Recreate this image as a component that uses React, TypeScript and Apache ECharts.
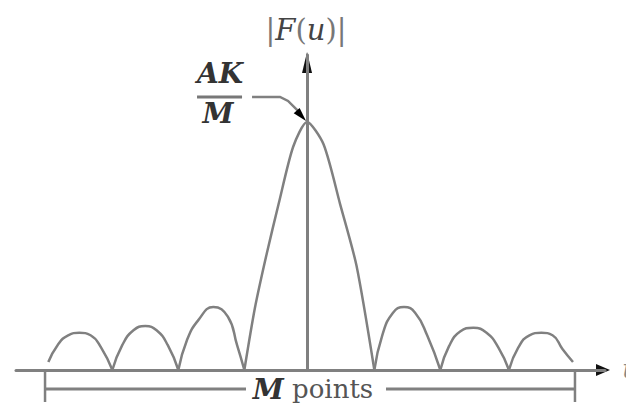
import React, { useEffect, useRef } from "react";
import * as echarts from "echarts";

// |F(u)| along u (one unit per zero crossing); magnitude scaled so the main peak AK/M = 1
const lobeLeft3: [number, number][] = [
  [-3.92, 0.032], [-3.78, 0.1], [-3.62, 0.14], [-3.45, 0.15],
  [-3.28, 0.14], [-3.12, 0.09], [-2.95, 0],
];
const lobeLeft2: [number, number][] = [
  [-2.95, 0], [-2.8, 0.1], [-2.63, 0.16], [-2.45, 0.177],
  [-2.28, 0.16], [-2.11, 0.1], [-1.95, 0],
];
const lobeLeft1: [number, number][] = [
  [-1.95, 0], [-1.82, 0.12], [-1.65, 0.2], [-1.42, 0.254],
  [-1.2, 0.215], [-1.06, 0.1], [-0.95, 0],
];
const mainLobe: [number, number][] = [
  [-0.95, 0], [-0.79, 0.25], [-0.61, 0.47], [-0.43, 0.67], [-0.21, 0.9],
  [0, 1], [0.25, 0.91], [0.5, 0.67], [0.75, 0.42], [1.02, 0],
];
const lobeRight1: [number, number][] = [
  [1.02, 0], [1.14, 0.14], [1.3, 0.23], [1.47, 0.254],
  [1.64, 0.23], [1.82, 0.14], [2.02, 0],
];
const lobeRight2: [number, number][] = [
  [2.02, 0], [2.15, 0.095], [2.32, 0.155], [2.52, 0.17],
  [2.72, 0.15], [2.9, 0.09], [3.06, 0],
];
const lobeRight3: [number, number][] = [
  [3.06, 0], [3.2, 0.09], [3.37, 0.14], [3.55, 0.15],
  [3.72, 0.14], [3.87, 0.085], [4.03, 0.032],
];

const lobes = [lobeLeft3, lobeLeft2, lobeLeft1, mainLobe, lobeRight1, lobeRight2, lobeRight3];

// axis extents and the span covered by the M samples
const uRange = [-4.41, 4.515];
const magRange = [0, 1.27];
const pointSpan = [-3.97, 4.06];
const peakValue = 1;

const GREY = "#808080";
const SERIF = "'DejaVu Serif', 'Liberation Serif', serif";

export default function App() {
  const ref = useRef<HTMLDivElement>(null);

  useEffect(() => {
    if (!ref.current) return;
    const chart = echarts.init(ref.current, undefined, { renderer: "svg" });

    chart.setOption({
      animation: false,
      backgroundColor: "#ffffff",
      grid: { left: 16, right: 21, top: 55, bottom: 41 },
      xAxis: {
        type: "value",
        min: uRange[0],
        max: uRange[1],
        axisLine: { show: true, onZero: true, lineStyle: { color: GREY, width: 3 } },
        axisTick: { show: false },
        axisLabel: { show: false },
        splitLine: { show: false },
      },
      yAxis: {
        type: "value",
        min: magRange[0],
        max: magRange[1],
        axisLine: { show: true, onZero: true, lineStyle: { color: GREY, width: 3 } },
        axisTick: { show: false },
        axisLabel: { show: false },
        splitLine: { show: false },
      },
      series: lobes.map((lobe) => ({
        type: "line",
        data: lobe,
        smooth: lobe === mainLobe ? 0.25 : 0.5,
        symbol: "none",
        silent: true,
        lineStyle: { color: GREY, width: 2.5 },
      })),
    });

    const px = (u: number, m: number) =>
      chart.convertToPixel({ gridIndex: 0 }, [u, m]) as number[];
    const [ox, oy] = px(0, 0);
    const top = px(0, magRange[1]);
    const right = px(uRange[1], 0);
    const peak = px(0, peakValue);
    const spanL = px(pointSpan[0], 0)[0];
    const spanR = px(pointSpan[1], 0)[0];
    const mid = (spanL + spanR) / 2 + 3;

    // leader from the AK/M label to the peak
    const fx = peak[0] - 87;
    const fy = peak[1] - 25;
    const leader = [
      [fx + 32, fy],
      [fx + 60, fy],
      [fx + 68, fy + 4],
      [fx + 79, fy + 15],
    ];
    const tip = [peak[0] - 1, peak[1] - 1];
    const from = leader[2];
    const dx = tip[0] - from[0];
    const dy = tip[1] - from[1];
    const len = Math.hypot(dx, dy);
    const d = [dx / len, dy / len];
    const base = [tip[0] - 14 * d[0], tip[1] - 14 * d[1]];
    const perp = [-d[1], d[0]];

    chart.setOption({
      graphic: [
        // axis arrowheads
        {
          type: "polygon",
          shape: { points: [[ox, top[1] - 3], [ox + 5, top[1] + 18], [ox - 5, top[1] + 18]] },
          style: { fill: "#111" },
        },
        {
          type: "polygon",
          shape: { points: [[right[0] + 5, oy], [right[0] - 9, oy - 6], [right[0] - 9, oy + 6]] },
          style: { fill: "#111" },
        },
        {
          type: "text",
          x: right[0] + 17,
          y: oy - 1,
          style: { text: "u", font: `italic 26px ${SERIF}`, fill: "#888", verticalAlign: "middle" },
        },
        // |F(u)|
        {
          type: "text",
          x: ox - 1,
          y: top[1] - 25,
          style: {
            text: "{b||}{i|F}{b|(}{i|u}{b|)}{b||}",
            align: "center",
            verticalAlign: "middle",
            fill: "#555",
            font: `29px ${SERIF}`,
            rich: {
              b: { font: `29px ${SERIF}`, fill: "#777" },
              i: { font: `italic 29px ${SERIF}`, fill: "#444" },
            },
          },
        },
        // AK/M fraction
        {
          type: "text",
          x: fx,
          y: fy - 23,
          style: {
            text: "AK",
            align: "center",
            verticalAlign: "middle",
            font: `bold italic 28px ${SERIF}`,
            fill: "#333",
          },
        },
        {
          type: "line",
          shape: { x1: fx - 23, y1: fy, x2: fx + 22, y2: fy },
          style: { stroke: "#777", lineWidth: 3 },
        },
        {
          type: "text",
          x: fx - 2,
          y: fy + 17,
          style: {
            text: "M",
            align: "center",
            verticalAlign: "middle",
            font: `bold italic 28px ${SERIF}`,
            fill: "#333",
          },
        },
        {
          type: "polyline",
          shape: { points: leader },
          style: { stroke: GREY, lineWidth: 2.5, fill: "none" },
        },
        {
          type: "polygon",
          shape: {
            points: [
              tip,
              [base[0] + 4 * perp[0], base[1] + 4 * perp[1]],
              [base[0] - 4 * perp[0], base[1] - 4 * perp[1]],
            ],
          },
          style: { fill: "#000" },
        },
        // M points bracket
        {
          type: "line",
          shape: { x1: spanL, y1: oy + 2, x2: spanL, y2: oy + 32 },
          style: { stroke: GREY, lineWidth: 2.5 },
        },
        {
          type: "line",
          shape: { x1: spanR, y1: oy + 2, x2: spanR, y2: oy + 32 },
          style: { stroke: GREY, lineWidth: 2.5 },
        },
        {
          type: "line",
          shape: { x1: spanL, y1: oy + 19, x2: mid - 67, y2: oy + 19 },
          style: { stroke: GREY, lineWidth: 3 },
        },
        {
          type: "line",
          shape: { x1: mid + 73, y1: oy + 19, x2: spanR, y2: oy + 19 },
          style: { stroke: GREY, lineWidth: 3 },
        },
        {
          type: "text",
          x: mid,
          y: oy + 19,
          style: {
            text: "{m|M} {p|points}",
            align: "center",
            verticalAlign: "middle",
            font: `26px ${SERIF}`,
            rich: {
              m: { font: `bold italic 28px ${SERIF}`, fill: "#333" },
              p: { font: `26px ${SERIF}`, fill: "#555" },
            },
          },
        },
      ],
    });

    return () => chart.dispose();
  }, []);

  return (
    <div
      ref={ref}
      style={{ position: "fixed", left: 0, top: 0, width: 626, height: 411, background: "#fff" }}
    />
  );
}
